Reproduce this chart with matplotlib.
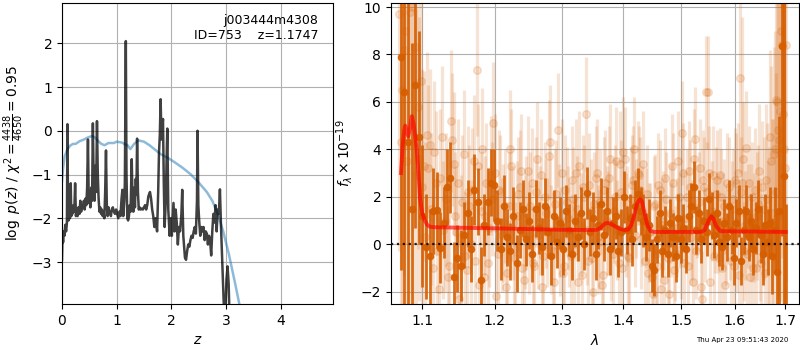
import matplotlib
matplotlib.use("Agg")
import matplotlib.pyplot as plt
from matplotlib.ticker import FixedLocator, FixedFormatter, NullLocator

# ---------------- redshift probability panel ----------------
z_grid = [0.00, 0.01, 0.02, 0.03, 0.045, 0.06, 0.075, 0.09, 0.10, 0.11,
          0.12, 0.135, 0.145, 0.16, 0.17, 0.18, 0.19, 0.21, 0.225, 0.24,
          0.255, 0.27, 0.285, 0.30, 0.32, 0.335, 0.35, 0.37, 0.385, 0.40,
          0.415, 0.43, 0.445, 0.46, 0.475, 0.49, 0.505, 0.52, 0.535, 0.55,
          0.565, 0.58, 0.595, 0.61, 0.625, 0.64, 0.655, 0.67, 0.685, 0.70,
          0.715, 0.73, 0.745, 0.76, 0.775, 0.79, 0.805, 0.82, 0.835, 0.85,
          0.865, 0.88, 0.895, 0.91, 0.93, 0.95, 0.97, 0.99, 1.01, 1.03,
          1.05, 1.07, 1.09, 1.105, 1.12, 1.14, 1.15, 1.168, 1.18, 1.195,
          1.21, 1.225, 1.24, 1.255, 1.276, 1.29, 1.305, 1.32, 1.335, 1.35,
          1.362, 1.374, 1.39, 1.405, 1.42, 1.44, 1.46, 1.48, 1.50, 1.52,
          1.54, 1.56, 1.58, 1.61, 1.63, 1.65, 1.67, 1.69, 1.713, 1.74,
          1.76, 1.775, 1.79, 1.805, 1.82, 1.848, 1.863, 1.878, 1.90, 1.915,
          1.927, 1.945, 1.97, 1.99, 2.01, 2.04, 2.06, 2.08, 2.10, 2.12,
          2.14, 2.16, 2.185, 2.20, 2.22, 2.25, 2.27, 2.29, 2.31, 2.33,
          2.35, 2.37, 2.39, 2.41, 2.43, 2.45, 2.47, 2.48, 2.495, 2.51,
          2.53, 2.55, 2.57, 2.59, 2.61, 2.63, 2.65, 2.67, 2.69, 2.71,
          2.73, 2.75, 2.77, 2.79, 2.81, 2.83, 2.85, 2.87, 2.89, 2.91,
          2.93, 2.95, 2.97, 2.99, 3.01, 3.03, 3.05, 3.07, 3.10, 3.15,
          3.25, 3.50, 4.00, 4.96]
log_pz = [-2.95, -2.35, -2.55, -2.30, -2.40, -2.15, -2.30, -2.10, 0.15, -1.90,
          -2.05, -1.85, -2.00, -1.20, -1.95, -1.80, -1.90, -1.70, -1.85, -1.20,
          -1.95, -1.80, -1.95, -1.75, -1.90, -1.60, -1.85, -1.70, -1.75, -1.60,
          -1.80, -1.55, -1.70, -1.30, -0.20, -1.65, -1.55, -1.75, -1.30, -1.60,
          0.17, -1.20, -1.60, -0.80, -1.40, 0.22, -1.00, -1.55, -1.85, -1.75,
          -1.90, -1.80, -1.95, -1.85, -2.00, -1.40, -0.45, -1.70, -1.95, -1.75,
          -1.90, -1.85, -1.95, -1.80, -1.75, -1.85, -1.90, -1.80, -1.90, -2.00,
          -1.85, -1.95, -1.55, -1.35, -1.95, -1.60, -1.20, 2.05, -1.00, -2.00,
          -2.05, -1.95, -1.70, -1.85, -0.65, -1.55, -1.85, -1.30, -1.75, -1.10,
          -1.45, -0.18, -1.40, -1.80, -1.75, -1.80, -1.78, -1.80, -1.75, -1.70,
          -1.80, -1.70, -1.50, -1.40, -1.55, -1.80, -1.95, -2.20, -2.00, -2.30,
          -1.40, -0.50, -0.10, 0.72, -0.20, 0.27, -1.20, -2.20, -1.60, -0.60,
          0.05, -1.80, -2.40, -2.00, -2.40, -1.65, -2.30, -1.80, -2.10, -2.60,
          -2.20, -2.30, -1.90, -1.35, -2.40, -2.90, -2.95, -2.75, -2.60, -2.65,
          -2.50, -2.40, -2.45, -2.30, -2.20, -2.35, -1.60, 0.00, -1.70, -2.05,
          -2.40, -2.20, -2.30, -2.20, -2.50, -2.30, -2.35, -2.60, -2.40, -2.50,
          -2.85, -2.30, -1.90, -2.10, -1.70, -2.30, -1.80, -1.90, -1.34, -2.20,
          -2.90, -3.60, -4.30, -4.10, -3.40, -3.10, -3.50, -4.50, -6.00, -8.00,
          -12.0, -20.0, -40.0, -80.0]

z_chi = [0.00, 0.02, 0.05, 0.10, 0.15, 0.20, 0.25, 0.32, 0.40, 0.48,
         0.55, 0.60, 0.65, 0.72, 0.78, 0.85, 0.95, 1.00, 1.10, 1.15,
         1.20, 1.25, 1.32, 1.40, 1.50, 1.60, 1.70, 1.80, 1.95, 2.05,
         2.20, 2.35, 2.50, 2.65, 2.75, 2.85, 2.95, 3.05, 3.17, 3.30]
chi_curve = [-1.15, -0.85, -0.58, -0.42, -0.34, -0.30, -0.30, -0.24, -0.20, -0.15,
             -0.12, -0.15, -0.22, -0.30, -0.33, -0.28, -0.28, -0.25, -0.27, -0.31,
             -0.33, -0.42, -0.30, -0.22, -0.25, -0.33, -0.43, -0.53, -0.63, -0.71,
             -0.84, -0.99, -1.18, -1.40, -1.60, -1.90, -2.30, -2.80, -3.50, -4.30]

# ---------------- 1D spectrum panel ----------------
# optimally combined (binned) spectrum
wave_bin = [1.0720, 1.0767, 1.0814, 1.0861, 1.0908, 1.0955, 1.1002, 1.1049, 1.1096, 1.1143,
            1.1190, 1.1237, 1.1284, 1.1331, 1.1378, 1.1425, 1.1472, 1.1519, 1.1566, 1.1613,
            1.1660, 1.1707, 1.1754, 1.1801, 1.1848, 1.1895, 1.1942, 1.1989, 1.2036, 1.2083,
            1.2130, 1.2177, 1.2224, 1.2271, 1.2318, 1.2365, 1.2412, 1.2459, 1.2506, 1.2553,
            1.2600, 1.2647, 1.2694, 1.2741, 1.2788, 1.2835, 1.2882, 1.2929, 1.2976, 1.3023,
            1.3070, 1.3117, 1.3164, 1.3211, 1.3258, 1.3305, 1.3352, 1.3399, 1.3446, 1.3493,
            1.3540, 1.3587, 1.3634, 1.3681, 1.3728, 1.3775, 1.3822, 1.3869, 1.3916, 1.3963,
            1.4010, 1.4057, 1.4104, 1.4151, 1.4198, 1.4245, 1.4292, 1.4339, 1.4386, 1.4433,
            1.4480, 1.4527, 1.4574, 1.4621, 1.4668, 1.4715, 1.4762, 1.4809, 1.4856, 1.4903,
            1.4950, 1.4997, 1.5044, 1.5091, 1.5138, 1.5185, 1.5232, 1.5279, 1.5326, 1.5373,
            1.5420, 1.5467, 1.5514, 1.5561, 1.5608, 1.5655, 1.5702, 1.5749, 1.5796, 1.5843,
            1.5890, 1.5937, 1.5984, 1.6031, 1.6078, 1.6125, 1.6172, 1.6219, 1.6266, 1.6313,
            1.6360, 1.6407, 1.6454, 1.6501, 1.6548, 1.6595, 1.6642, 1.6689, 1.6736, 1.6783,
            1.6830, 1.6877, 1.6924, 1.6971, 1.7018]
flux_bin = [7.9, 6.4, 4.3, 1.5, 6.7, 4.5, 1.2, -0.1, -0.5, 1.4,
            1.45, -0.15, 0.9, 2.4, 2.8, -1.4, -0.6, -0.9, 0.4, 1.3,
            -0.2, 2.3, 1.8, -1.5, 0.8, 1.8, 2.6, 2.5, 1.0, -0.2,
            1.6, 0.3, -0.3, 1.2, -0.8, 0.6, 1.5, 0.2, 1.0, -0.4,
            1.5, 0.7, -0.1, 1.6, 0.5, -0.5, 1.2, 0.1, 0.9, -0.2,
            1.4, 0.6, -0.4, 1.0, 0.3, 1.3, 0.0, 2.15, 0.5, 1.1,
            -0.4, 0.8, 1.7, 0.4, 1.4, -0.2, 0.9, 1.2, -0.3, 0.5,
            2.0, 0.6, 1.1, 0.2, 1.6, 2.1, 1.4, 1.0, 0.3, 0.8,
            -0.9, -1.1, 0.2, 1.3, -0.3, 0.6, -0.4, 0.9, 0.3, -0.5,
            1.1, 0.2, 0.7, -0.2, 1.2, 1.6, 2.4, 0.6, 1.3, 0.2,
            1.0, 0.5, 1.9, 1.2, 0.4, 1.3, 0.1, -0.1, 0.9, 0.3,
            1.6, 0.6, -0.6, 0.9, 1.4, -0.7, 0.6, 1.4, 0.3, 1.0,
            -0.2, 0.7, 1.5, 0.4, -0.4, 0.8, 0.1, 0.9, -0.5, 0.6,
            -1.15, 1.4, 8.35, 2.86, -3.5]
err_bin = [9.0, 9.0, 8.0, 7.0, 6.0, 4.5, 3.0, 2.2, 2.0, 1.8,
           1.6, 1.5, 1.5, 1.6, 1.5, 1.5, 1.4, 1.5, 1.4, 1.4,
           1.4, 1.5, 1.4, 1.4, 1.3, 1.4, 1.4, 1.5, 1.3, 1.3,
           1.3, 1.2, 1.2, 1.2, 1.2, 1.2, 1.2, 1.1, 1.2, 1.2,
           1.2, 1.1, 1.2, 1.2, 1.1, 1.2, 1.1, 1.1, 1.1, 1.1,
           1.1, 1.1, 1.1, 1.1, 1.0, 1.1, 1.1, 1.1, 1.0, 1.1,
           1.1, 1.0, 1.1, 1.1, 1.0, 1.1, 1.1, 1.0, 1.1, 1.0,
           1.1, 1.0, 1.0, 1.1, 1.1, 1.1, 1.0, 1.1, 1.0, 1.1,
           1.1, 1.1, 1.0, 1.0, 1.1, 1.0, 1.0, 1.0, 1.0, 1.1,
           1.0, 1.0, 1.0, 1.0, 1.1, 1.0, 1.1, 1.0, 1.0, 1.0,
           1.0, 1.0, 1.1, 1.0, 1.0, 1.0, 1.0, 1.0, 1.0, 1.0,
           1.1, 1.0, 1.1, 1.0, 1.1, 1.0, 1.0, 1.1, 1.0, 1.1,
           1.1, 1.1, 1.2, 1.2, 1.3, 1.3, 1.4, 1.5, 1.6, 1.8,
           2.5, 4.0, 8.0, 9.0, 5.2]

# individual exposures / beams
wave_raw = [1.0700, 1.0740, 1.0780, 1.0820, 1.0860, 1.0900, 1.0940, 1.0980, 1.1020, 1.1060,
            1.1100, 1.1140, 1.1180, 1.1220, 1.1260, 1.1300, 1.1340, 1.1380, 1.1420, 1.1460,
            1.1500, 1.1540, 1.1580, 1.1620, 1.1660, 1.1700, 1.1740, 1.1780, 1.1820, 1.1860,
            1.1900, 1.1940, 1.1980, 1.2020, 1.2060, 1.2100, 1.2140, 1.2180, 1.2220, 1.2260,
            1.2300, 1.2340, 1.2380, 1.2420, 1.2460, 1.2500, 1.2540, 1.2580, 1.2620, 1.2660,
            1.2700, 1.2740, 1.2780, 1.2820, 1.2860, 1.2900, 1.2940, 1.2980, 1.3020, 1.3060,
            1.3100, 1.3140, 1.3180, 1.3220, 1.3260, 1.3300, 1.3340, 1.3380, 1.3420, 1.3460,
            1.3500, 1.3540, 1.3580, 1.3620, 1.3660, 1.3700, 1.3740, 1.3780, 1.3820, 1.3860,
            1.3900, 1.3940, 1.3980, 1.4020, 1.4060, 1.4100, 1.4140, 1.4180, 1.4220, 1.4260,
            1.4300, 1.4340, 1.4380, 1.4420, 1.4460, 1.4500, 1.4540, 1.4580, 1.4620, 1.4660,
            1.4700, 1.4740, 1.4780, 1.4820, 1.4860, 1.4900, 1.4940, 1.4980, 1.5020, 1.5060,
            1.5100, 1.5140, 1.5180, 1.5220, 1.5260, 1.5300, 1.5340, 1.5380, 1.5420, 1.5460,
            1.5500, 1.5540, 1.5580, 1.5620, 1.5660, 1.5700, 1.5740, 1.5780, 1.5820, 1.5860,
            1.5900, 1.5940, 1.5980, 1.6020, 1.6060, 1.6100, 1.6140, 1.6180, 1.6220, 1.6260,
            1.6300, 1.6340, 1.6380, 1.6420, 1.6460, 1.6500, 1.6540, 1.6580, 1.6620, 1.6660,
            1.6700, 1.6740, 1.6780, 1.6820, 1.6860, 1.6900, 1.6940, 1.6980, 1.7020]
flux_raw = [9.7, 6.5, 9.0, 4.2, 10.0, 8.3, 5.8, 6.9, 3.3, 4.6,
            4.2, -1.0, 2.6, -1.9, 4.5, 1.0, -1.4, 5.2, 3.4, 0.5,
            -2.3, 1.8, -0.5, 2.2, 0.0, 3.5, 7.35, -1.7, 4.0, 1.2,
            -0.8, 2.9, 5.1, -2.2, 2.3, 0.4, 1.6, -1.2, 4.0, 0.9,
            -0.6, 2.1, 3.1, -1.5, 1.3, 0.2, 2.6, -0.9, 3.6, 1.0,
            -1.8, 2.0, 0.5, 4.3, -0.3, 1.7, 4.8, 0.1, -1.2, 2.3,
            1.1, -0.5, 1.9, 3.0, -1.6, 0.8, 2.4, 5.5, -0.7, 1.4,
            -2.0, 2.8, 0.3, 1.8, -1.3, 2.6, 0.9, 3.6, -0.4, 2.0,
            0.6, 3.4, -1.0, 3.6, 1.2, -0.6, 2.5, 4.0, 1.5, 2.9,
            0.2, 3.4, 1.1, -1.2, 0.5, -2.1, 1.7, -0.9, 2.3, 0.8,
            -1.5, 1.9, -2.1, 0.6, 2.6, -0.4, 3.5, 1.0, 4.7, -0.8,
            2.0, 3.1, 0.3, -1.6, 4.45, 1.4, 3.2, -2.3, 2.4, 6.4,
            6.4, -1.6, 2.9, 0.8, 2.7, -0.6, 2.0, 1.0, -1.7, 2.6,
            0.5, 1.5, -0.9, 2.6, 3.0, 7.0, 2.6, -0.3, 4.05, 1.2,
            -1.4, 2.0, 0.7, -1.0, 1.7, 0.2, 2.4, -1.2, 1.9, 0.6,
            3.5, 0.8, 4.0, 6.1, 4.8, 5.6, 8.4, 4.0, 8.4]
err_raw = [10.0, 9.0, 9.0, 8.0, 8.0, 7.0, 6.0, 5.0, 4.0, 3.5,
           3.2, 3.0, 3.0, 3.0, 3.0, 3.0, 3.0, 3.0, 3.0, 2.8,
           2.8, 2.8, 2.7, 2.8, 2.7, 2.8, 2.8, 2.6, 2.6, 2.5,
           2.5, 2.5, 2.6, 2.5, 2.5, 2.4, 2.4, 2.4, 2.5, 2.4,
           2.4, 2.4, 2.4, 2.3, 2.4, 2.3, 2.3, 2.3, 2.4, 2.3,
           2.3, 2.3, 2.3, 2.4, 2.3, 2.3, 2.4, 2.3, 2.3, 2.3,
           2.2, 2.2, 2.2, 2.3, 2.2, 2.2, 2.2, 2.4, 2.2, 2.2,
           2.2, 2.2, 2.2, 2.2, 2.2, 2.2, 2.2, 2.3, 2.2, 2.2,
           2.1, 2.2, 2.1, 2.2, 2.1, 2.1, 2.1, 2.2, 2.1, 2.1,
           2.1, 2.2, 2.1, 2.1, 2.1, 2.1, 2.1, 2.1, 2.1, 2.0,
           2.1, 2.0, 2.1, 2.0, 2.1, 2.0, 2.1, 2.0, 2.2, 2.0,
           2.0, 2.1, 2.0, 2.0, 2.2, 2.0, 2.1, 2.0, 2.1, 2.4,
           2.4, 2.0, 2.1, 2.0, 2.1, 2.0, 2.0, 2.0, 2.0, 2.1,
           2.0, 2.0, 2.0, 2.1, 2.1, 4.0, 7.0, 2.1, 2.4, 2.2,
           2.2, 2.3, 2.3, 2.4, 2.5, 2.6, 2.8, 3.0, 3.2, 3.5,
           4.0, 4.5, 5.0, 6.0, 7.0, 8.0, 9.0, 10.0, 10.0]

wave_raw2 = [1.0720, 1.0760, 1.0800, 1.0840, 1.0880, 1.0920, 1.0960, 1.1000, 1.1040, 1.1080,
             1.1120, 1.1160, 1.1200, 1.1240, 1.1280, 1.1320, 1.1360, 1.1400, 1.1440, 1.1480,
             1.1520, 1.1560, 1.1600, 1.1640, 1.1680, 1.1720, 1.1760, 1.1800, 1.1840, 1.1880,
             1.1920, 1.1960, 1.2000, 1.2040, 1.2080, 1.2120, 1.2160, 1.2200, 1.2240, 1.2280,
             1.2320, 1.2360, 1.2400, 1.2440, 1.2480, 1.2520, 1.2560, 1.2600, 1.2640, 1.2680,
             1.2720, 1.2760, 1.2800, 1.2840, 1.2880, 1.2920, 1.2960, 1.3000, 1.3040, 1.3080,
             1.3120, 1.3160, 1.3200, 1.3240, 1.3280, 1.3320, 1.3360, 1.3400, 1.3440, 1.3480,
             1.3520, 1.3560, 1.3600, 1.3640, 1.3680, 1.3720, 1.3760, 1.3800, 1.3840, 1.3880,
             1.3920, 1.3960, 1.4000, 1.4040, 1.4080, 1.4120, 1.4160, 1.4200, 1.4240, 1.4280,
             1.4320, 1.4360, 1.4400, 1.4440, 1.4480, 1.4520, 1.4560, 1.4600, 1.4640, 1.4680,
             1.4720, 1.4760, 1.4800, 1.4840, 1.4880, 1.4920, 1.4960, 1.5000, 1.5040, 1.5080,
             1.5120, 1.5160, 1.5200, 1.5240, 1.5280, 1.5320, 1.5360, 1.5400, 1.5440, 1.5480,
             1.5520, 1.5560, 1.5600, 1.5640, 1.5680, 1.5720, 1.5760, 1.5800, 1.5840, 1.5880,
             1.5920, 1.5960, 1.6000, 1.6040, 1.6080, 1.6120, 1.6160, 1.6200, 1.6240, 1.6280,
             1.6320, 1.6360, 1.6400, 1.6440, 1.6480, 1.6520, 1.6560, 1.6600, 1.6640, 1.6680,
             1.6720, 1.6760, 1.6800, 1.6840, 1.6880, 1.6920, 1.6960, 1.7000]
flux_raw2 = [4.3, 8.2, 3.5, 9.8, 4.2, 2.9, 3.6, 2.4, 0.3, 3.2,
             1.5, 3.9, -0.3, 2.8, 0.6, 1.9, -0.9, 4.4, 1.2, 2.6,
             0.2, 3.8, -1.1, 1.6, 2.3, -0.7, 3.3, 1.4, -1.4, 2.6,
             0.7, 1.9, 3.0, -0.4, 2.2, 0.9, -1.8, 1.6, 3.3, -0.2,
             1.2, 2.4, -1.0, 0.5, 3.1, 1.6, -0.8, 2.2, 0.4, 2.9,
             -0.5, 1.3, 3.7, 0.2, -1.6, 2.1, 1.0, 3.0, -0.9, 1.8,
             0.4, 2.7, -0.3, 1.5, 3.3, -1.3, 2.0, 0.6, 2.5, -0.6,
             1.7, 3.0, 0.1, -1.7, 2.3, 1.0, 2.8, -0.2, 1.4, 3.5,
             -0.8, 2.2, 3.9, 0.8, -0.5, 1.9, 2.7, 0.4, 3.0, 2.3,
             1.2, -0.7, 2.1, 0.5, -1.4, 1.6, -0.4, 2.5, -1.9, 1.0,
             2.8, -0.6, 1.3, 3.3, -1.1, 0.7, 2.0, -0.2, 3.0, 1.1,
             -0.9, 2.4, 0.6, 3.6, -0.3, 1.8, -1.8, 2.7, 0.4, 2.2,
             3.0, 1.4, -0.5, 2.1, 0.9, 2.9, -1.0, 1.6, 0.3, 2.4,
             -0.7, 1.9, 2.7, 0.2, -1.3, 2.2, 3.6, 0.8, -0.4, 2.6,
             0.9, -1.0, 2.3, 1.2, 3.1, -0.8, 1.5, 2.7, 0.1, 4.5,
             1.3, 3.8, 2.2, 6.0, 4.4, 9.0, 5.5, 3.2]
err_raw2 = [10.0, 9.5, 9.0, 8.5, 8.0, 7.0, 6.0, 5.0, 4.0, 3.5,
            3.2, 3.0, 3.0, 2.9, 2.9, 2.8, 2.8, 2.8, 2.7, 2.7,
            2.7, 2.7, 2.6, 2.6, 2.6, 2.6, 2.6, 2.5, 2.5, 2.5,
            2.5, 2.4, 2.5, 2.4, 2.4, 2.5, 2.4, 2.3, 2.4, 2.4,
            2.3, 2.4, 2.3, 2.4, 2.3, 2.3, 2.4, 2.3, 2.3, 2.4,
            2.3, 2.3, 2.4, 2.3, 2.3, 2.3, 2.4, 2.3, 2.3, 2.3,
            2.2, 2.3, 2.2, 2.2, 2.3, 2.2, 2.2, 2.3, 2.2, 2.2,
            2.2, 2.3, 2.2, 2.2, 2.2, 2.3, 2.2, 2.2, 2.2, 2.3,
            2.2, 2.2, 2.3, 2.2, 2.2, 2.2, 2.3, 2.2, 2.2, 2.2,
            2.1, 2.2, 2.1, 2.1, 2.2, 2.1, 2.1, 2.2, 2.1, 2.1,
            2.1, 2.0, 2.1, 2.2, 2.0, 2.1, 2.0, 2.1, 2.1, 2.0,
            2.1, 2.0, 2.1, 2.1, 2.0, 2.1, 2.0, 2.1, 2.0, 2.1,
            2.0, 2.1, 2.0, 2.0, 2.1, 2.0, 2.1, 2.0, 2.0, 2.1,
            2.1, 2.1, 2.2, 2.2, 2.2, 2.3, 2.4, 2.3, 2.3, 2.4,
            2.5, 2.5, 2.6, 2.7, 2.8, 2.9, 3.0, 3.2, 3.4, 3.7,
            4.0, 4.5, 5.0, 6.0, 7.0, 8.0, 9.0, 10.0]

# best-fit template (continuum + emission lines)
wave_model = [1.0722, 1.0745, 1.0765, 1.0778, 1.0795, 1.0817, 1.0840, 1.0862, 1.0885, 1.0905,
              1.0927, 1.0950, 1.0971, 1.1000, 1.1034, 1.1065, 1.1100, 1.1150, 1.1300, 1.1600,
              1.2000, 1.2500, 1.3000, 1.3500, 1.3560, 1.3620, 1.3670, 1.3700, 1.3740, 1.3800,
              1.3870, 1.3950, 1.4020, 1.4080, 1.4130, 1.4180, 1.4230, 1.4260, 1.4286, 1.4315,
              1.4360, 1.4410, 1.4460, 1.4520, 1.4800, 1.5100, 1.5370, 1.5430, 1.5480, 1.5530,
              1.5560, 1.5600, 1.5650, 1.5730, 1.6000, 1.6500, 1.7005]
flux_model = [3.0, 4.2, 4.8, 5.0, 4.8, 4.55, 4.9, 5.4, 5.1, 4.6,
              4.0, 3.0, 1.9, 1.3, 1.0, 0.82, 0.74, 0.72, 0.71, 0.69,
              0.67, 0.64, 0.61, 0.60, 0.61, 0.68, 0.82, 0.88, 0.90, 0.85,
              0.74, 0.64, 0.60, 0.62, 0.80, 1.20, 1.70, 1.85, 1.90, 1.80,
              1.30, 0.80, 0.56, 0.52, 0.52, 0.52, 0.52, 0.60, 0.85, 1.10,
              1.17, 1.05, 0.75, 0.55, 0.54, 0.53, 0.52]

wave_ticks = [1.1, 1.2, 1.3, 1.4, 1.5, 1.6, 1.7]
g141_color = (0.8352941176470589, 0.3686274509803922, 0.0)

plt.rcParams['font.family'] = ['DejaVu Sans']
fig = plt.figure(figsize=(8.0, 3.5), dpi=100)

# left: p(z)
ax1 = fig.add_axes([0.0775, 0.1314, 0.3388, 0.86])
ax1.plot(z_chi, chi_curve, color='tab:blue', alpha=0.5, lw=1.8)
ax1.plot(z_grid, log_pz, color='k', alpha=0.75, lw=1.8)
ax1.set_xlim(0, 4.96)
ax1.set_ylim(-3.96, 2.92)
ax1.set_xticks([0, 1, 2, 3, 4])
ax1.set_yticks([-3, -2, -1, 0, 1, 2])
ax1.grid(True)
ax1.set_axisbelow(True)
ax1.set_xlabel(r'$z$')
ax1.set_ylabel(r'$\log\ p(z)$ / $\chi^2=\frac{4438}{4650}=0.95$')
ax1.text(0.945, 0.965, 'j003444m4308\nID=753    z=1.1747', ha='right', va='top',
         transform=ax1.transAxes, fontsize=9)

# right: 1D spectrum
ax2 = fig.add_axes([0.48875, 0.1314, 0.51, 0.86])
ax2.set_xscale('log')
for w, f, e in [(wave_raw, flux_raw, err_raw), (wave_raw2, flux_raw2, err_raw2)]:
    ax2.errorbar(w, f, yerr=e, fmt='o', color=g141_color, alpha=0.17,
                 ms=5.5, elinewidth=2.3, capsize=0, zorder=1)
ax2.errorbar(wave_bin, flux_bin, yerr=err_bin, fmt='o', color=g141_color,
             alpha=0.9, ms=4.5, elinewidth=2.0, capsize=0, zorder=2)
ax2.plot(wave_model, flux_model, color='r', alpha=0.65, lw=2.8, zorder=3)
ax2.axhline(0, color='k', ls=':', lw=1.6, alpha=0.85, zorder=4)
ax2.set_xlim(1.0595, 1.728)
ax2.set_ylim(-2.52, 10.17)
ax2.xaxis.set_major_locator(FixedLocator(wave_ticks))
ax2.xaxis.set_major_formatter(FixedFormatter([f'{w:.1f}' for w in wave_ticks]))
ax2.xaxis.set_minor_locator(NullLocator())
ax2.set_yticks([-2, 0, 2, 4, 6, 8, 10])
ax2.grid(True)
ax2.set_axisbelow(True)
ax2.set_xlabel(r'$\lambda$')
ax2.set_ylabel(r'$f_\lambda \times 10^{-19}$')

fig.text(0.985, 0.028, 'Thu Apr 23 09:51:43 2020', ha='right', va='center', fontsize=5)

fig.savefig('out.png', dpi=100)
